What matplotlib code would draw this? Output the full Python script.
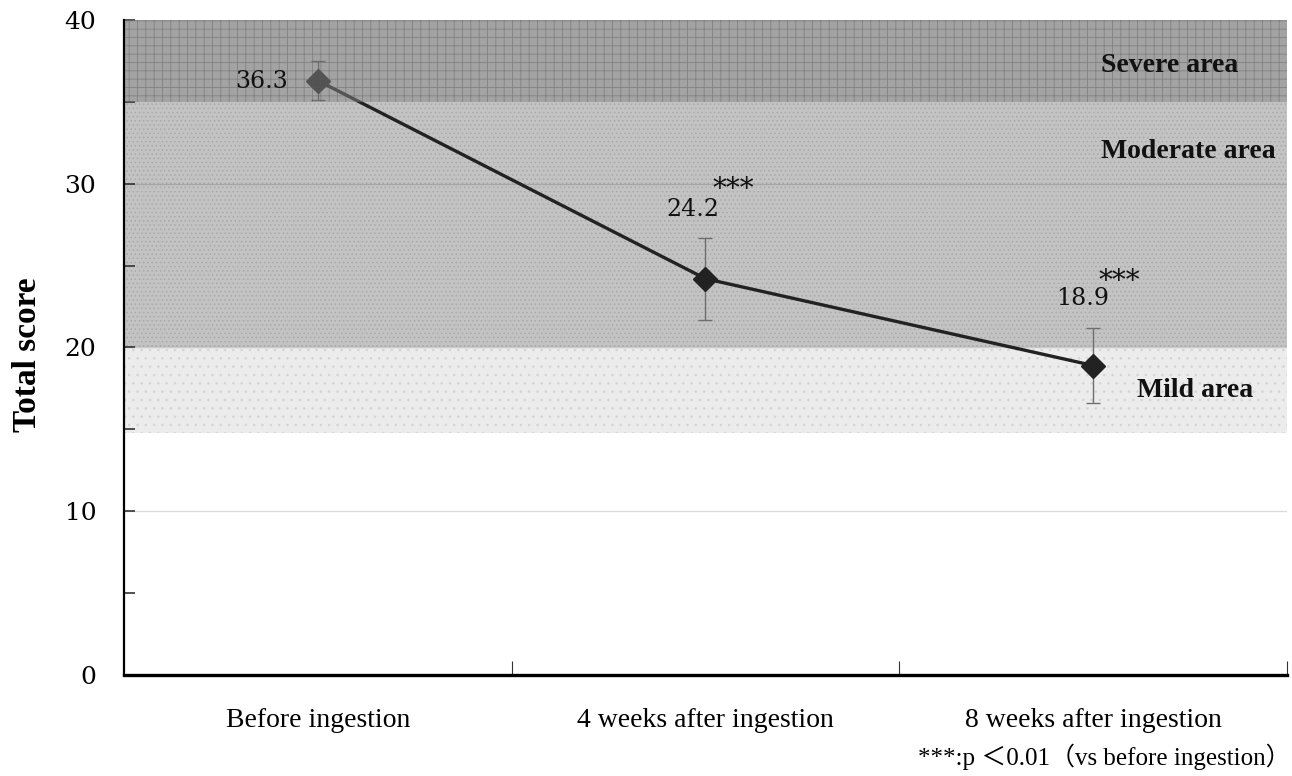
import matplotlib
matplotlib.use("Agg")
import matplotlib.pyplot as plt
from matplotlib.patches import Rectangle
from matplotlib.ticker import MultipleLocator

# Data
timepoints = ["Before ingestion", "4 weeks after ingestion", "8 weeks after ingestion"]
scores = [36.3, 24.2, 18.9]
errors = [1.2, 2.5, 2.3]
score_labels = ["36.3", "24.2", "18.9"]
significance = ["", "***", "***"]

# Severity bands (lower, upper, label)
band_names = ["Mild area", "Moderate area", "Severe area"]
band_lower = [14.8, 20.0, 35.0]
band_upper = [20.0, 35.0, 40.0]

plt.rcParams["hatch.linewidth"] = 0.6

fig = plt.figure(figsize=(12.92, 7.76), dpi=100)
ax = fig.add_axes([0.096, 0.1302, 0.9001, 0.8440])

x = list(range(len(timepoints)))
ax.set_xlim(-0.5, 2.5)
ax.set_ylim(0, 40)

# Bands
ax.add_patch(Rectangle((-0.5, band_lower[0]), 3.0, band_upper[0] - band_lower[0],
                       facecolor="#ececec", edgecolor="#d4d4d4", hatch="..",
                       linewidth=0, zorder=0))
ax.add_patch(Rectangle((-0.5, band_lower[1]), 3.0, band_upper[1] - band_lower[1],
                       facecolor="#c3c3c3", edgecolor="#a9a9a9", hatch="....",
                       linewidth=0, zorder=0))

# Grid
for gy in (10, 20, 30):
    ax.axhline(gy, color="black", alpha=0.14, linewidth=1.0, zorder=1)

# Line, markers, error bars
ax.errorbar(x, scores, yerr=errors, fmt="none", ecolor="#6e6e6e",
            elinewidth=1.0, capsize=5, capthick=1.0, zorder=2)
ax.plot(x, scores, color="#222222", linewidth=2.4, marker="D",
        markersize=12, markerfacecolor="#222222", markeredgecolor="#222222",
        zorder=3)

# Severe band drawn as a translucent layer over the series
ax.add_patch(Rectangle((-0.5, band_lower[2]), 3.0, band_upper[2] - band_lower[2],
                       facecolor=(0.44, 0.44, 0.44, 0.64),
                       edgecolor=(0.35, 0.35, 0.35, 0.45), hatch="++",
                       linewidth=0, zorder=4))

# Value labels
num_font = dict(family="DejaVu Serif", fontsize=17, color="#111111", zorder=6)
ax.text(x[0] - 0.078, scores[0] - 0.05, score_labels[0], ha="right", va="center", **num_font)
ax.text(x[1] - 0.033, scores[1] + 4.25, score_labels[1], ha="center", va="center", **num_font)
ax.text(x[2] - 0.026, scores[2] + 4.1, score_labels[2], ha="center", va="center", **num_font)
ast_font = dict(family="DejaVu Serif", fontsize=20, color="#111111", zorder=6)
ax.text(x[1] + 0.072, scores[1] + 5.45, significance[1], ha="center", va="center", **ast_font)
ax.text(x[2] + 0.067, scores[2] + 5.1, significance[2], ha="center", va="center", **ast_font)

# Band labels
band_font = dict(family="Liberation Serif", fontsize=20, fontweight="bold",
                 color="#111111", zorder=6)
ax.text(2.02, 37.25, band_names[2], ha="left", va="center", **band_font)
ax.text(2.02, 32.0, band_names[1], ha="left", va="center", **band_font)
ax.text(2.113, 17.35, band_names[0], ha="left", va="center", **band_font)

# Axes styling
for side in ("top", "right"):
    ax.spines[side].set_visible(False)
ax.spines["left"].set_linewidth(1.6)
ax.spines["bottom"].set_linewidth(2.4)
ax.spines["left"].set_zorder(7)
ax.spines["bottom"].set_zorder(7)

ax.yaxis.set_major_locator(MultipleLocator(10))
ax.yaxis.set_minor_locator(MultipleLocator(5))
ax.tick_params(axis="y", which="both", direction="in", length=8, width=1.2,
               color="#333333", pad=20, labelsize=18)
for lab in ax.get_yticklabels():
    lab.set_family("DejaVu Serif")

ax.set_xticks([0.5, 1.5, 2.5])
ax.set_xticklabels([])
ax.set_xticks(x, minor=True)
ax.set_xticklabels(timepoints, minor=True, family="Liberation Serif", fontsize=20)
ax.tick_params(axis="x", which="major", direction="in", length=10, width=0.8,
               color="#333333")
ax.tick_params(axis="x", which="minor", length=0, pad=24)

ax.set_ylabel("Total score", family="Liberation Serif", fontsize=24,
              fontweight="bold")
ax.yaxis.set_label_coords(-0.07, 0.4885)

fig.text(0.999, 0.0245, "***:p ＜0.01（vs before ingestion）",
         ha="right", va="center", fontsize=18,
         family=["Liberation Serif", "Noto Sans CJK JP"])

fig.savefig("out.png", dpi=100)
